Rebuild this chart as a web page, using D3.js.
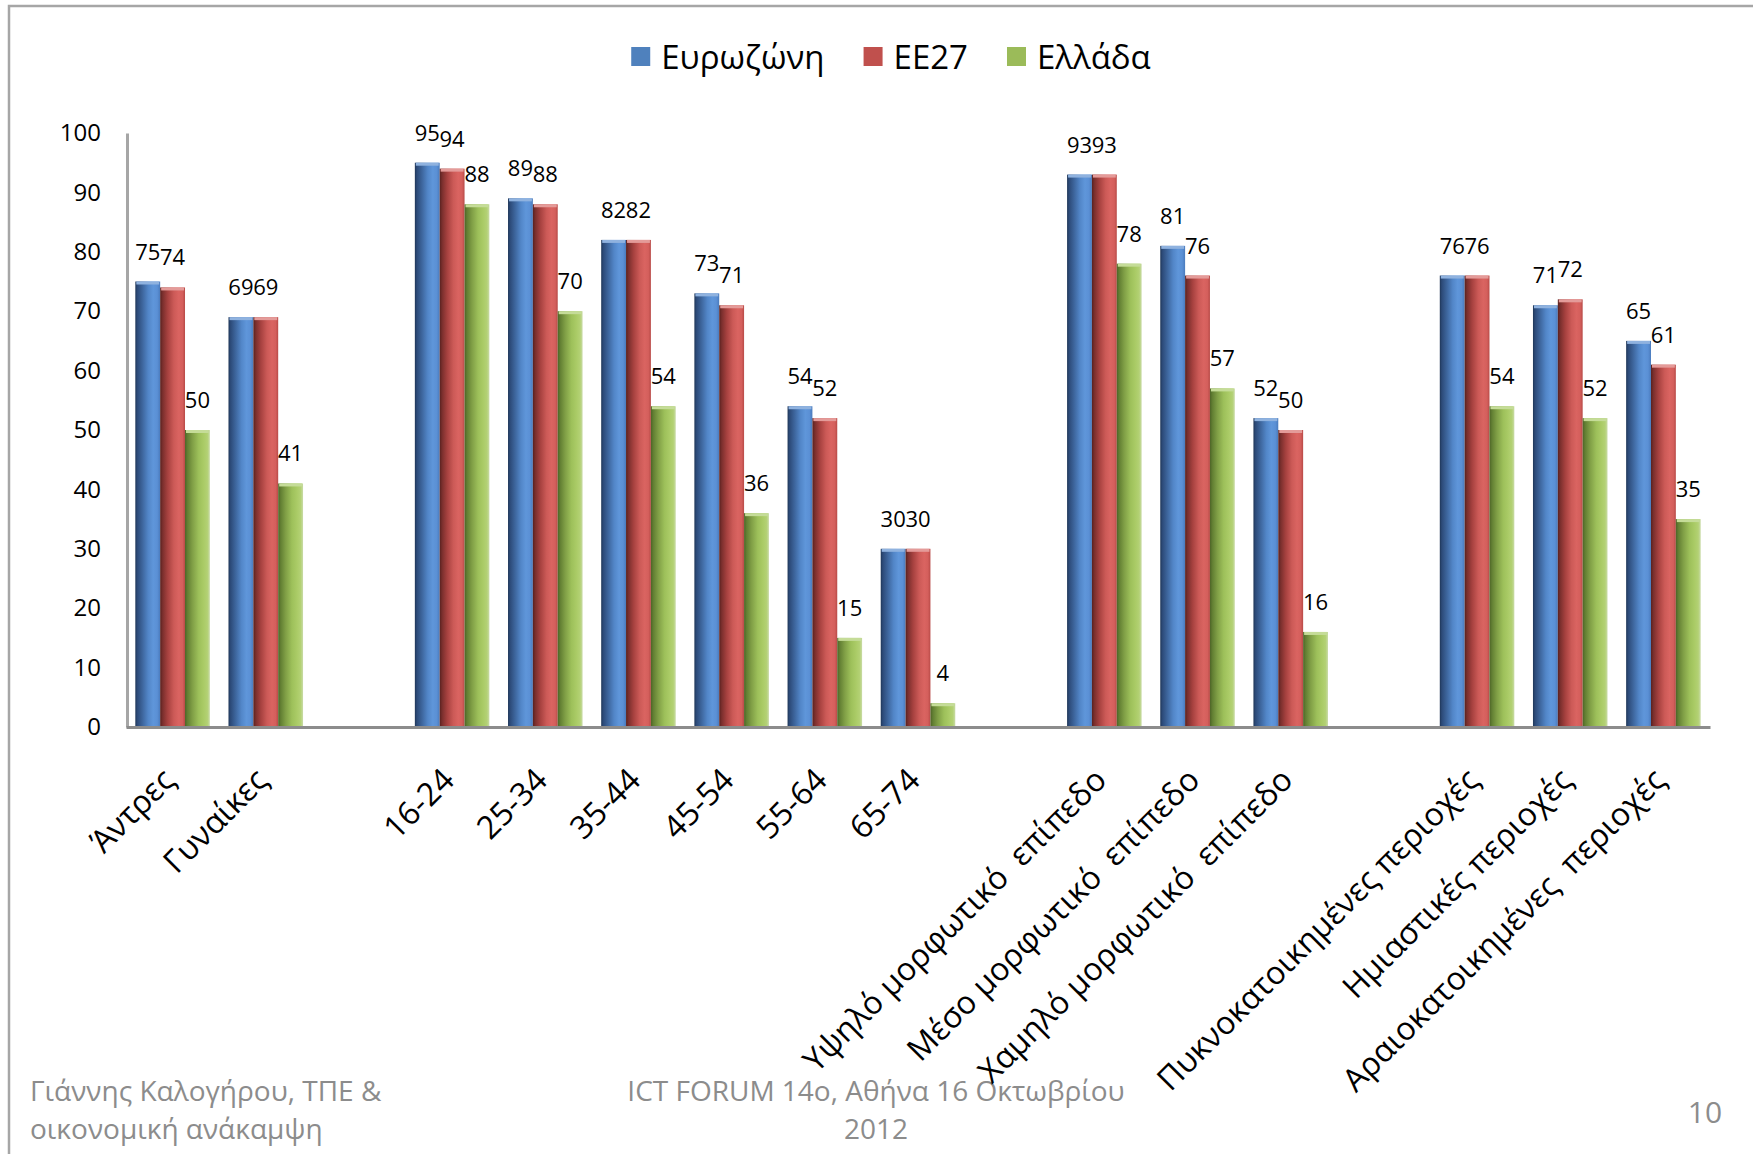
<!DOCTYPE html>
<html lang="el">
<head>
<meta charset="utf-8">
<title>Χρήση διαδικτύου</title>
<script src="https://cdn.jsdelivr.net/npm/d3@7"></script>
<style>
	body { margin: 0; background: #fff; }
	svg { display: block; font-family: "Open Sans", "Noto Sans", sans-serif; }
</style>
</head>
<body>
<div id="chart"></div>
<script>
// Data
const categories = [
	"Άντρες", "Γυναίκες",
	"16-24", "25-34", "35-44", "45-54", "55-64", "65-74",
	"Υψηλό μορφωτικό  επίπεδο", "Μέσο μορφωτικό  επίπεδο", "Χαμηλό μορφωτικό  επίπεδο",
	"Πυκνοκατοικημένες περιοχές", "Ημιαστικές περιοχές", "Αραιοκατοικημένες  περιοχές"
];
const groupSizes = [2, 6, 3, 3];
const seriesNames = ["Ευρωζώνη", "ΕΕ27", "Ελλάδα"];
const eurozone = [75, 69, 95, 89, 82, 73, 54, 30, 93, 81, 52, 76, 71, 65];
const eu27 = [74, 69, 94, 88, 82, 71, 52, 30, 93, 76, 50, 76, 72, 61];
const greece = [50, 41, 88, 70, 54, 36, 15, 4, 78, 57, 16, 54, 52, 35];
const yTicks = [0, 10, 20, 30, 40, 50, 60, 70, 80, 90, 100];
const footerLeft = ["Γιάννης Καλογήρου, ΤΠΕ &", "οικονομική ανάκαμψη"];
const footerCenter = ["ICT FORUM 14ο, Αθήνα 16 Οκτωβρίου", "2012"];
const pageNumber = "10";

const width = 1753;
const height = 1154;

// Slot list with an empty slot between groups
const slots = [];
const gaps = new Set();
let k = 0;
groupSizes.forEach((n, g) => {
	categories.slice(k, k + n).forEach(c => slots.push(c));
	k += n;
	if (g < groupSizes.length - 1) {
		slots.push(`gap${g}`);
		gaps.add(`gap${g}`);
	}
});

const rows = categories.map((c, i) => ({
	category: c,
	values: [eurozone[i], eu27[i], greece[i]]
}));

// Colors (legend) and gradient stops for the cylinder look
const colors = ["#4f81bd", "#c0504d", "#9bbb59"];
const caps = ["#8fb2df", "#e49b99", "#c5dc98"];
const stops = [
	[["0%", "#1f3657"], ["8%", "#2c4a78"], ["28%", "#3d659c"], ["52%", "#5286c8"], ["72%", "#5f96da"], ["88%", "#5b90d5"], ["100%", "#4a7bbd"]],
	[["0%", "#58211f"], ["10%", "#7a2f2d"], ["30%", "#a6413f"], ["55%", "#cc5a57"], ["75%", "#da6461"], ["90%", "#d45f5c"], ["100%", "#b84a47"]],
	[["0%", "#4d6427"], ["10%", "#627f33"], ["30%", "#809f46"], ["55%", "#9dc05a"], ["75%", "#aacb66"], ["90%", "#b3d174"], ["100%", "#c9dba7"]]
];

const svg = d3.select("#chart")
	.append("svg")
	.attr("width", width)
	.attr("height", height);

const defs = svg.append("defs");
stops.forEach((s, i) => {
	const grad = defs.append("linearGradient")
		.attr("id", `grad${i}`)
		.attr("x1", "0%").attr("x2", "100%")
		.attr("y1", "0%").attr("y2", "0%");
	s.forEach(([o, c]) => grad.append("stop").attr("offset", o).attr("stop-color", c));
});

// Slide frame
svg.append("path")
	.attr("d", `M9,${height}V6H${width}`)
	.attr("fill", "none")
	.attr("stroke", "#a6a6a6")
	.attr("stroke-width", 2.5);

// Footer
const footer = svg.append("g")
	.attr("font-size", 28)
	.attr("fill", "#8c8c8c");

footer.selectAll(".fl")
	.data(footerLeft)
	.enter()
	.append("text")
	.attr("x", 30)
	.attr("y", (d, i) => 1101 + i * 38)
	.text(d => d);

footer.selectAll(".fc")
	.data(footerCenter)
	.enter()
	.append("text")
	.attr("x", 876)
	.attr("y", (d, i) => 1101 + i * 38)
	.attr("text-anchor", "middle")
	.text(d => d);

footer.append("text")
	.attr("x", 1705)
	.attr("y", 1123)
	.attr("text-anchor", "middle")
	.attr("font-size", 30)
	.text(pageNumber);

// Scales
const x = d3.scaleBand()
	.domain(slots)
	.range([126, 1710])
	.paddingInner(0.2)
	.paddingOuter(0.1);

const xs = d3.scaleBand()
	.domain(seriesNames)
	.range([0, x.bandwidth()]);

const y = d3.scaleLinear()
	.domain([0, 100])
	.range([727, 133]);

// Bars
const groups = svg.selectAll(".group")
	.data(rows)
	.enter()
	.append("g")
	.attr("class", "group")
	.attr("transform", d => `translate(${x(d.category)},0)`);

const bars = groups.selectAll(".bar")
	.data(d => d.values.map((v, i) => ({ series: seriesNames[i], index: i, value: v })))
	.enter()
	.append("g")
	.attr("class", "bar");

bars.append("rect")
	.attr("x", d => xs(d.series))
	.attr("y", d => y(d.value))
	.attr("width", xs.bandwidth())
	.attr("height", d => y(0) - y(d.value))
	.attr("fill", d => `url(#grad${d.index})`);

bars.append("rect")
	.attr("x", d => xs(d.series) + 1)
	.attr("y", d => y(d.value))
	.attr("width", xs.bandwidth() - 2)
	.attr("height", 3)
	.attr("fill", d => caps[d.index]);

// Value labels
bars.append("text")
	.attr("x", d => xs(d.series) + xs.bandwidth() / 2)
	.attr("y", d => y(d.value) - 22)
	.attr("text-anchor", "middle")
	.attr("font-size", 22)
	.attr("fill", "#000")
	.text(d => d.value);

// Y axis
const yAxis = svg.append("g")
	.attr("transform", "translate(127,0)")
	.call(d3.axisLeft(y).tickValues(yTicks).tickSize(0).tickSizeOuter(0).tickPadding(26));

yAxis.select(".domain").attr("stroke", "#a6a6a6").attr("stroke-width", 3);
yAxis.selectAll("text")
	.attr("font-size", 24)
	.attr("fill", "#000")
	.style("font-family", "\"Open Sans\", \"Noto Sans\", sans-serif");

// X axis
const xAxis = svg.append("g")
	.attr("transform", "translate(0,727)")
	.call(d3.axisBottom(x).tickSize(0).tickSizeOuter(0).tickFormat(d => gaps.has(d) ? "" : d));

xAxis.select(".domain").attr("stroke", "#8c8c8c").attr("stroke-width", 3);
xAxis.selectAll("text")
	.attr("x", 0)
	.attr("y", 0)
	.attr("dy", 0)
	.attr("xml:space", "preserve")
	.style("white-space", "pre")
	.attr("text-anchor", "end")
	.attr("transform", "translate(4,55) rotate(-45)")
	.attr("font-size", 32)
	.attr("fill", "#000")
	.style("font-family", "\"Open Sans\", \"Noto Sans\", sans-serif");

// Legend
const legend = svg.append("g");
let lx = 0;
seriesNames.forEach((name, i) => {
	const item = legend.append("g").attr("transform", `translate(${lx},0)`);
	item.append("rect")
		.attr("x", 0)
		.attr("y", 47)
		.attr("width", 19)
		.attr("height", 19)
		.attr("fill", colors[i]);
	const t = item.append("text")
		.attr("x", 30)
		.attr("y", 69)
		.attr("font-size", 33)
		.attr("fill", "#000")
		.text(name);
	lx += 30 + t.node().getComputedTextLength() + 39;
});
const legendWidth = lx - 39;
legend.attr("transform", `translate(${891 - legendWidth / 2},0)`);
</script>
</body>
</html>
